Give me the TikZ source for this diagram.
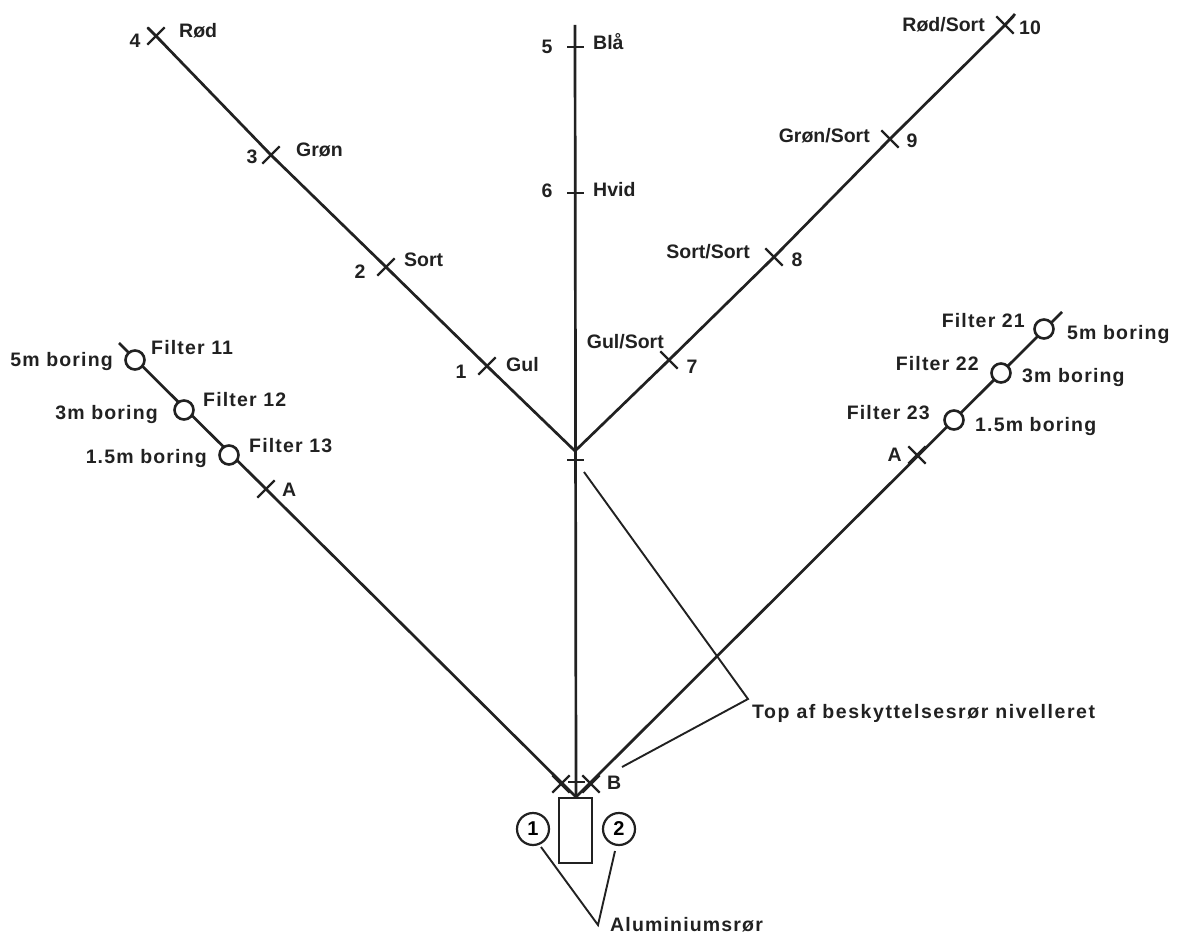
\documentclass[tikz,border=0pt]{standalone}
\usepackage{fontspec}
\setmainfont{Liberation Sans}
\newfontfamily\widefont[LetterSpace=6]{Liberation Sans}
\newfontfamily\widerfont[LetterSpace=8]{Liberation Sans}
\usetikzlibrary{shapes.misc}
\definecolor{ink}{gray}{0.13}
\tikzset{
  xmark/.style={
    shape = cross out,
    draw = ink,
    line width = 2.3pt,
    inner sep = 0pt,
    minimum size = 15pt
  },
  hmark/.style={
    shape = rectangle,
    fill = ink,
    inner sep = 0pt,
    minimum width = 17pt,
    minimum height = 2pt
  },
  filter/.style={
    shape = circle,
    draw = ink,
    fill = white,
    line width = 2.6pt,
    inner sep = 0pt,
    minimum size = 19pt
  },
  pipe/.style={
    shape = circle,
    draw = ink,
    line width = 2.2pt,
    inner sep = 0pt,
    minimum size = 32pt,
    font = \fontsize{20}{22}\selectfont\bfseries
  },
  rail/.style={
    draw = ink,
    line width = 2.7pt
  },
  leader/.style={
    draw = ink,
    line width = 1.9pt
  },
  lbl/.style={
    inner sep = 0pt,
    text = ink,
    font = \fontsize{19.5}{22}\selectfont\bfseries
  },
  widelbl/.style={
    lbl,
    font = \fontsize{19.5}{22}\selectfont\widefont\bfseries
  }
}
\begin{document}
\begin{tikzpicture}[x=1pt,y=-1pt]
  \useasboundingbox (0,0) rectangle (1181,936);
  % rails
  \coordinate (apex) at (576,797);
  \coordinate (top) at (575,25);
  \coordinate (hub) at (575,451);
  \coordinate (tipL) at (148,28);
  \coordinate (tipR) at (1015,14);
  \coordinate (endL) at (119,343);
  \coordinate (endR) at (1062,312);
  \draw[rail] (top)--(apex);
  \draw[rail] (apex)--(endL);
  \draw[rail] (apex)--(endR);
  % upper left arm
  \node[xmark] (m1) at (487,366) {};
  \node[xmark] (m2) at (386,267) {};
  \node[xmark] (m3) at (271,155) {};
  \node[xmark] (m4) at (156,36) {};
  \draw[rail] (hub)--(m1.center)--(m2.center)--(m3.center)--(m4.center)--(tipL);
  \node[lbl,anchor=west] (gul) at (506,365) {Gul};
  \node[lbl,anchor=west] (sort) at (404,260) {Sort};
  \node[lbl,anchor=west] (gron) at (296,150) {Grøn};
  \node[lbl,anchor=west] (rod) at (179,31) {Rød};
  \node[lbl] (n1) at (461,372) {1};
  \node[lbl] (n2) at (360,272) {2};
  \node[lbl] (n3) at (252,157) {3};
  \node[lbl] (n4) at (135,41) {4};
  % middle
  \node[hmark] (m5) at (575,47) {};
  \node[hmark] (m6) at (575,193) {};
  \node[hmark] (mh) at (575,460) {};
  \node[hmark] (mb) at (576,782) {};
  \node[lbl] (n5) at (547,47) {5};
  \node[lbl] (n6) at (547,191) {6};
  \node[lbl,anchor=west] (bla) at (593,42) {Blå};
  \node[lbl,anchor=west] (hvid) at (593,190) {Hvid};
  % upper right arm
  \node[xmark] (m7) at (669,360) {};
  \node[xmark] (m8) at (774,257) {};
  \node[xmark] (m9) at (890,139) {};
  \node[xmark] (m10) at (1005,25) {};
  \draw[rail] (hub)--(m7.center)--(m8.center)--(m9.center)--(m10.center)--(tipR);
  \node[lbl,anchor=east] (gs) at (664,342) {Gul/Sort};
  \node[lbl,anchor=east] (ss) at (750,252) {Sort/Sort};
  \node[lbl,anchor=east] (grs) at (870,136) {Grøn/Sort};
  \node[lbl,anchor=east] (rs) at (985,25) {Rød/Sort};
  \node[lbl] (n7) at (692,367) {7};
  \node[lbl] (n8) at (797,260) {8};
  \node[lbl] (n9) at (912,141) {9};
  \node[lbl,anchor=west] (n10) at (1019,28) {10};
  % lower left arm
  \node[filter] (f11) at (135,360) {};
  \node[filter] (f12) at (184,410) {};
  \node[filter] (f13) at (229,455) {};
  \node[xmark] (aL) at (266,489) {};
  \node[widelbl,anchor=west] (t11) at (151,348) {Filter 11};
  \node[widelbl,anchor=west] (t12) at (203,400) {Filter 12};
  \node[widelbl,anchor=west] (t13) at (249,446) {Filter 13};
  \node[widelbl,anchor=east] (b11) at (113,362) {5m boring};
  \node[widelbl,anchor=east] (b12) at (158,414) {3m boring};
  \node[widelbl,anchor=east] (b13) at (207,458) {1.5m boring};
  \node[lbl,anchor=west] (taL) at (282,490) {A};
  % lower right arm
  \node[filter] (f21) at (1044,329) {};
  \node[filter] (f22) at (1001,373) {};
  \node[filter] (f23) at (954,420) {};
  \node[xmark] (aR) at (917,455) {};
  \node[widelbl,anchor=east] (t21) at (1025,321) {Filter 21};
  \node[widelbl,anchor=east] (t22) at (979,364) {Filter 22};
  \node[widelbl,anchor=east] (t23) at (930,413) {Filter 23};
  \node[widelbl,anchor=west] (b21) at (1067,335) {5m boring};
  \node[widelbl,anchor=west] (b22) at (1022,377) {3m boring};
  \node[widelbl,anchor=west] (b23) at (975,426) {1.5m boring};
  \node[lbl,anchor=east] (taR) at (902,455) {A};
  % base
  \node[xmark] (xL) at (561,784) {};
  \node[xmark] (xB) at (591,784) {};
  \node[lbl,anchor=west] (tB) at (607,783) {B};
  \draw[rail] (559,798) rectangle (592,863);
  \node[pipe] (p1) at (533,829) {1};
  \node[pipe] (p2) at (619,829) {2};
  % leaders
  \node[widelbl,anchor=west,font=\fontsize{19.5}{22}\selectfont\widerfont\bfseries] (toplbl) at (752,713) {Top af beskyttelsesrør nivelleret};
  \node[widelbl,anchor=west] (alu) at (610,925) {Aluminiumsrør};
  \coordinate (lt) at (748,699);
  \coordinate (la) at (598,925);
  \coordinate (lp1) at (541,847);
  \coordinate (lp2) at (615,851);
  \coordinate (lh) at (584,472);
  \coordinate (lb) at (622,767);
  \draw[leader] (lh)--(lt)--(lb);
  \draw[leader] (lp1)--(la)--(lp2);
\end{tikzpicture}
\end{document}
